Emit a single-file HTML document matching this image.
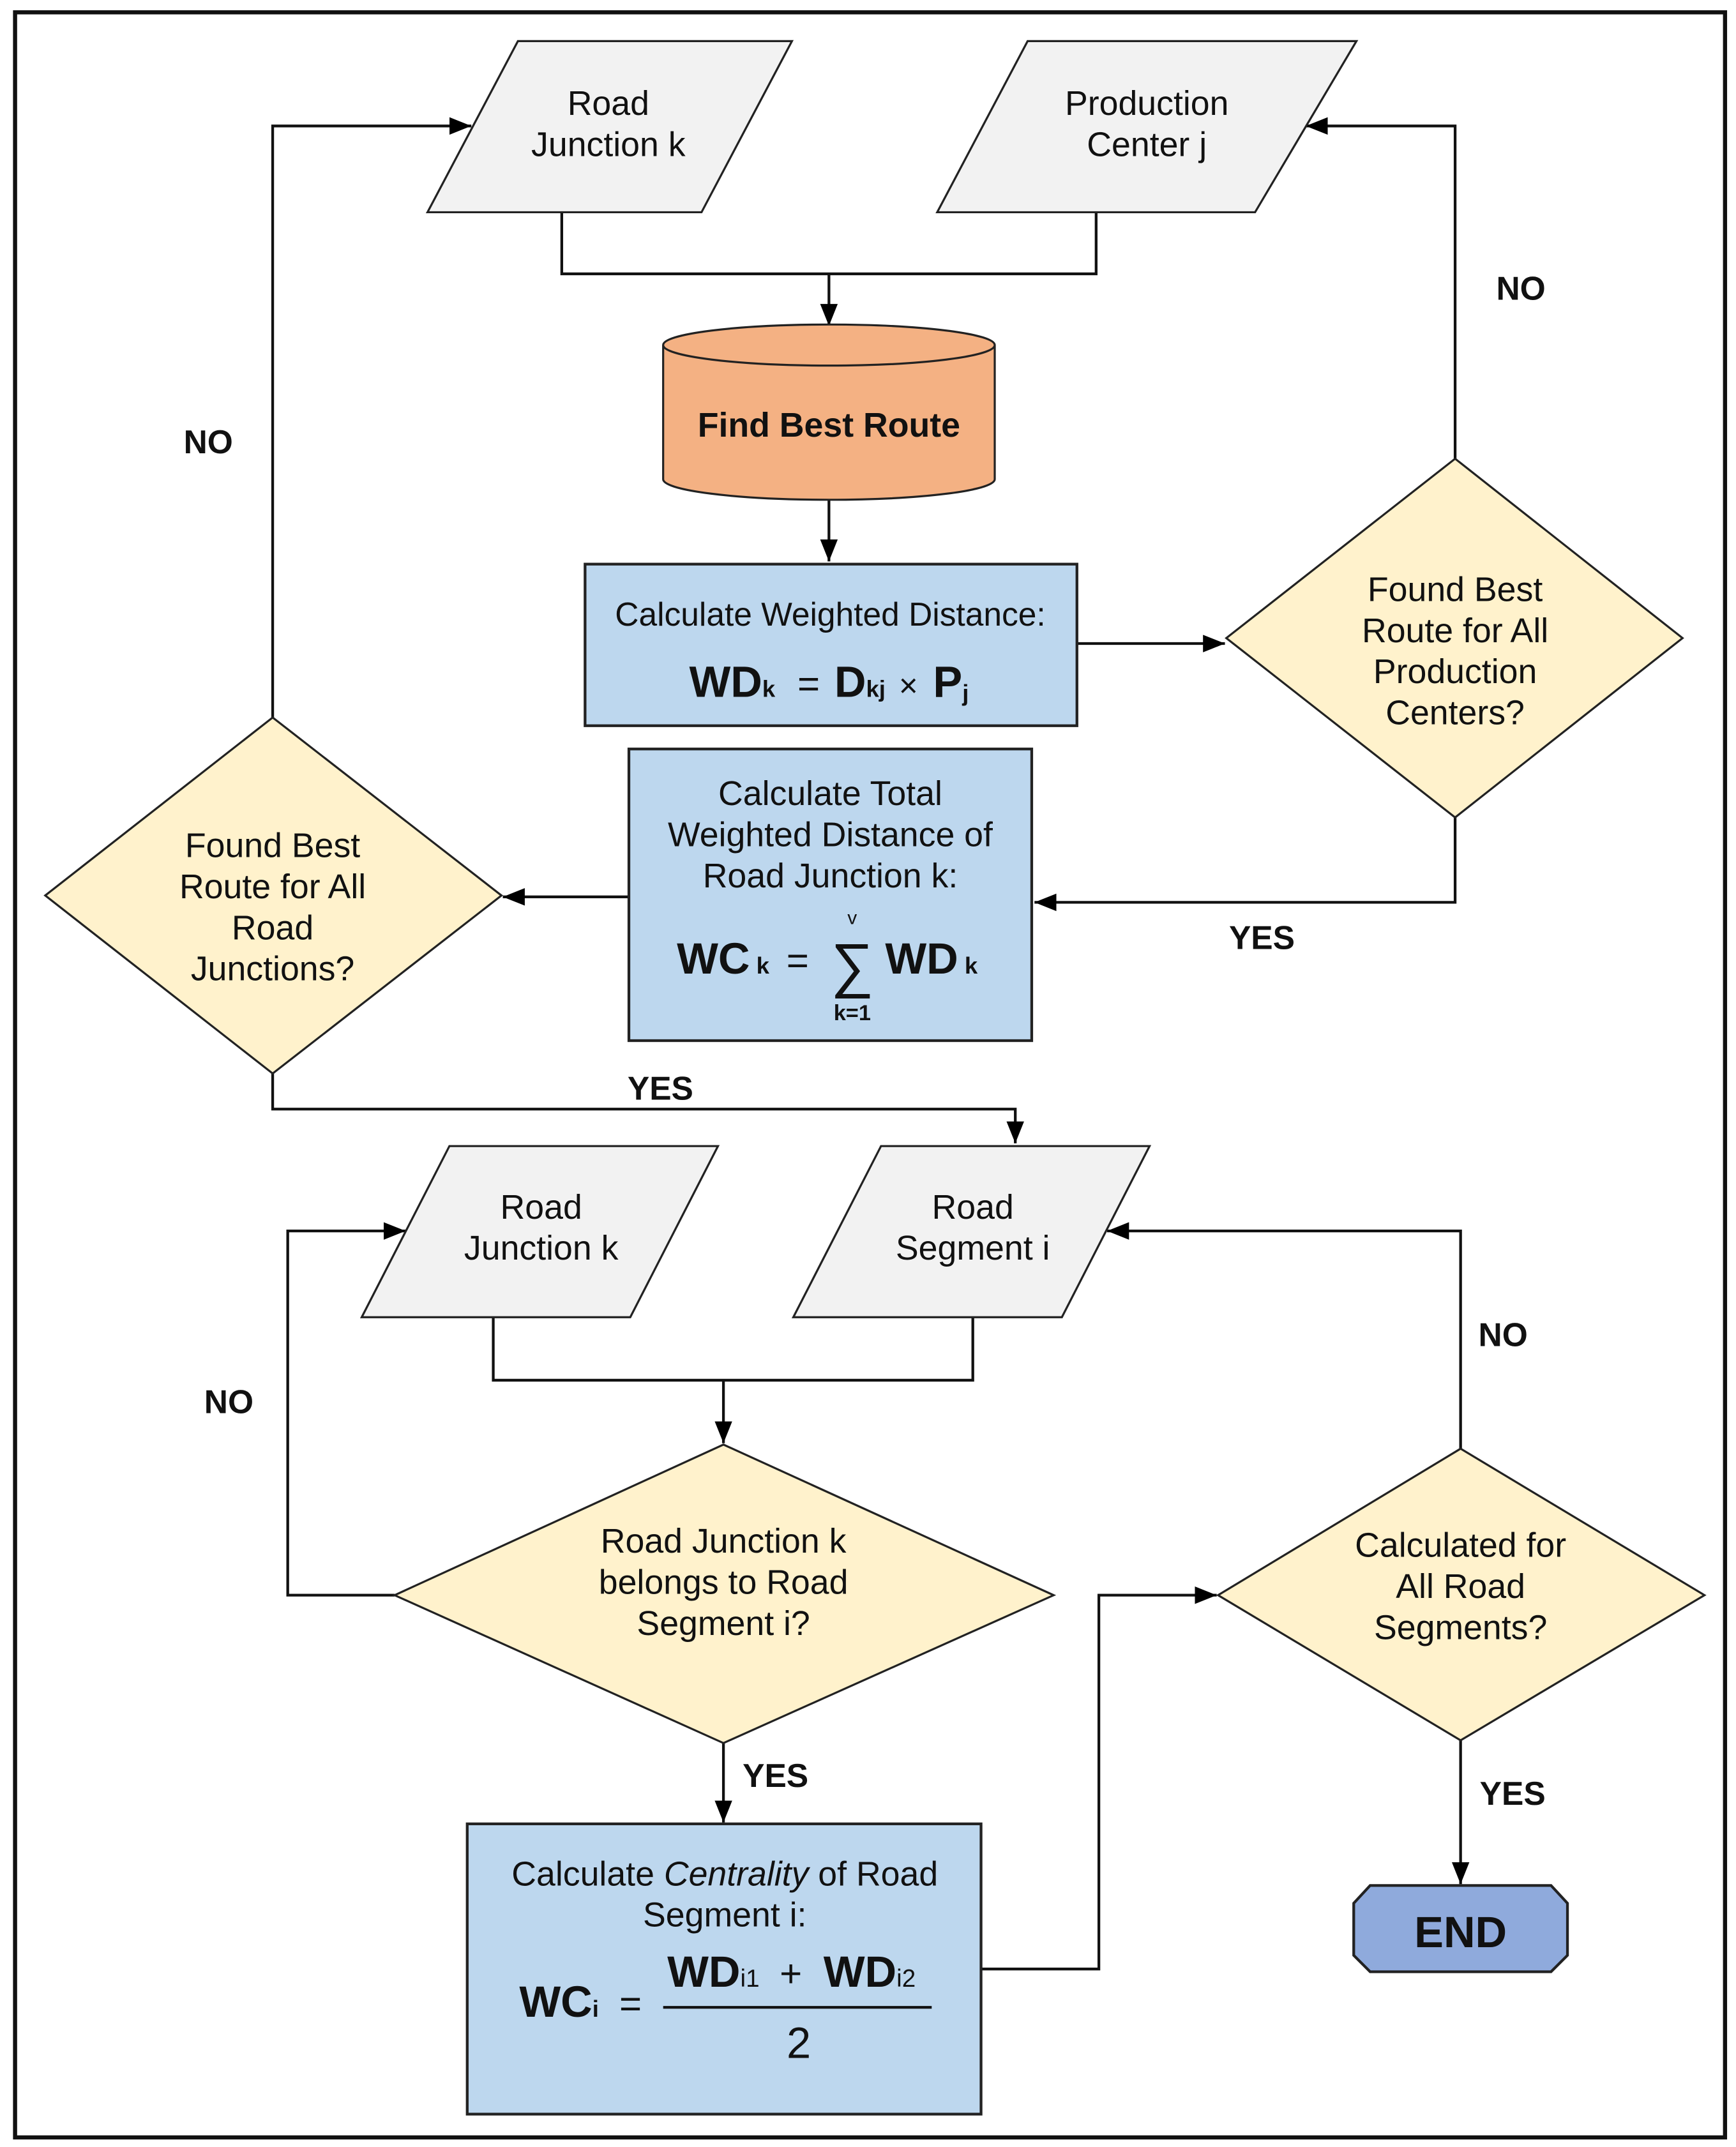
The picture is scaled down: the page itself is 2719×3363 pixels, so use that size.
<!DOCTYPE html>
<html><head><meta charset="utf-8"><style>
html,body{margin:0;padding:0;background:#fff;}
svg{display:block;}
text{font-family:"Liberation Sans",Arial,sans-serif;fill:#111;}
</style></head><body>
<svg width="2719" height="3363" viewBox="0 0 1267 1568" preserveAspectRatio="none" xmlns="http://www.w3.org/2000/svg">
<defs>
<marker id="a" viewBox="0 0 10 10" refX="10" refY="5" markerWidth="7" markerHeight="7" markerUnits="userSpaceOnUse" orient="auto">
<path d="M0,0 L10,5 L0,10 z" fill="#000"/></marker>
<marker id="b" viewBox="0 0 10 10" refX="10" refY="5" markerWidth="16" markerHeight="16" markerUnits="userSpaceOnUse" orient="auto">
<path d="M0,1 L10,5 L0,9 z" fill="#000"/></marker>
</defs>
<rect x="0" y="0" width="1267" height="1568" fill="#fff"/>
<rect x="11" y="9" width="1248" height="1552" fill="none" stroke="#111" stroke-width="3"/>

<g fill="none" stroke="#111" stroke-width="2">
<polyline points="410,155 410,200 800,200 800,155"/>
<line x1="605" y1="200" x2="605" y2="238" marker-end="url(#b)"/>
<line x1="605" y1="365" x2="605" y2="410" marker-end="url(#b)"/>
<line x1="786" y1="470" x2="894" y2="470" marker-end="url(#b)"/>
<polyline points="1062,335 1062,92 953,92" marker-end="url(#b)"/>
<polyline points="1062,597 1062,659 755,659" marker-end="url(#b)"/>
<line x1="459" y1="655" x2="367" y2="655" marker-end="url(#b)"/>
<polyline points="199,524 199,92 344,92" marker-end="url(#b)"/>
<polyline points="199,784 199,810 741,810 741,835" marker-end="url(#b)"/>
<polyline points="360,962 360,1008 710,1008 710,962"/>
<line x1="528" y1="1008" x2="528" y2="1054" marker-end="url(#b)"/>
<polyline points="288,1165 210,1165 210,899 296,899" marker-end="url(#b)"/>
<line x1="528" y1="1273" x2="528" y2="1331" marker-end="url(#b)"/>
<polyline points="716,1438 802,1438 802,1165 888,1165" marker-end="url(#b)"/>
<polyline points="1066,1058 1066,899 808,899" marker-end="url(#b)"/>
<line x1="1066" y1="1271" x2="1066" y2="1376" marker-end="url(#b)"/>
</g>

<g stroke="#222" stroke-width="1.5">
<polygon points="312,155 378,30 578,30 512,155" fill="#f2f2f2"/>
<polygon points="684,155 750,30 990,30 916,155" fill="#f2f2f2"/>
<path d="M484,252 L484,350 A121,15 0 0 0 726,350 L726,252 A121,15 0 0 0 484,252 A121,15 0 0 0 726,252" fill="#f4b183"/>
<rect x="427" y="412" width="359" height="118" fill="#bdd7ee" stroke-width="2"/>
<polygon points="895,466 1062,335 1228,466 1062,597" fill="#fff2cc"/>
<rect x="459" y="547" width="294" height="213" fill="#bdd7ee" stroke-width="2"/>
<polygon points="33,654 199,524 366,654 199,784" fill="#fff2cc"/>
<polygon points="264,962 328,837 524,837 460,962" fill="#f2f2f2"/>
<polygon points="579,962 643,837 839,837 775,962" fill="#f2f2f2"/>
<polygon points="288,1165 528,1055 769,1165 528,1273" fill="#fff2cc"/>
<rect x="341" y="1332" width="375" height="212" fill="#bdd7ee" stroke-width="2"/>
<polygon points="889,1165 1066,1058 1244,1165 1066,1271" fill="#fff2cc"/>
<polygon points="1000,1377 1132,1377 1144,1390 1144,1428 1132,1440 1000,1440 988,1428 988,1390" fill="#8faadc" stroke-width="2"/>
</g>

<g font-size="25" text-anchor="middle">
<text x="444" y="84">Road</text><text x="444" y="114">Junction k</text>
<text x="837" y="84">Production</text><text x="837" y="114">Center j</text>
<text x="605" y="319" font-weight="bold" font-size="25">Find Best Route</text>
<text x="606" y="457" font-size="24">Calculate Weighted Distance:</text>
<text x="1062" y="439">Found Best</text><text x="1062" y="469">Route for All</text><text x="1062" y="499">Production</text><text x="1062" y="529">Centers?</text>
<text x="606" y="588">Calculate Total</text><text x="606" y="618">Weighted Distance of</text><text x="606" y="648">Road Junction k:</text>
<text x="199" y="626">Found Best</text><text x="199" y="656">Route for All</text><text x="199" y="686">Road</text><text x="199" y="716">Junctions?</text>
<text x="395" y="890">Road</text><text x="395" y="920">Junction k</text>
<text x="710" y="890">Road</text><text x="710" y="920">Segment i</text>
<text x="528" y="1134">Road Junction k</text><text x="528" y="1164">belongs to Road</text><text x="528" y="1194">Segment i?</text>
<text x="1066" y="1137">Calculated for</text><text x="1066" y="1167">All Road</text><text x="1066" y="1197">Segments?</text>
<text x="529" y="1377">Calculate <tspan font-style="italic">Centrality</tspan> of Road</text>
<text x="529" y="1407">Segment i:</text>
<text x="1066" y="1422" font-weight="bold" font-size="32">END</text>
</g>

<g font-size="24" font-weight="bold">
<text x="1110" y="219" text-anchor="middle">NO</text>
<text x="152" y="331" text-anchor="middle">NO</text>
<text x="921" y="693" text-anchor="middle">YES</text>
<text x="482" y="803" text-anchor="middle">YES</text>
<text x="167" y="1032" text-anchor="middle">NO</text>
<text x="1097" y="983" text-anchor="middle">NO</text>
<text x="566" y="1305" text-anchor="middle">YES</text>
<text x="1104" y="1318" text-anchor="middle">YES</text>
</g>

<!-- formulas -->
<g>
<text x="503" y="509" font-size="32" font-weight="bold">WD<tspan font-size="17" dy="0">k</tspan></text>
<text x="582" y="509" font-size="28">=</text>
<text x="609" y="509" font-size="32" font-weight="bold">D<tspan font-size="17">kj</tspan></text>
<text x="656" y="509" font-size="24" fill="#333">×</text>
<text x="681" y="509" font-size="32" font-weight="bold">P<tspan font-size="17" dy="3">j</tspan></text>

<text x="494" y="711" font-size="32" font-weight="bold">WC<tspan font-size="17"> k</tspan></text>
<text x="574" y="711" font-size="28">=</text>
<text x="622" y="675" font-size="14" text-anchor="middle">v</text>
<text x="622" y="720" font-size="44" text-anchor="middle">∑</text>
<text x="622" y="745" font-size="16" font-weight="bold" text-anchor="middle">k=1</text>
<text x="646" y="711" font-size="32" font-weight="bold">WD<tspan font-size="17"> k</tspan></text>

<text x="379" y="1473" font-size="32" font-weight="bold">WC<tspan font-size="17">i</tspan></text>
<text x="452" y="1473" font-size="28">=</text>
<text x="487" y="1451" font-size="32" font-weight="bold">WD<tspan font-size="18" font-weight="normal">i1</tspan></text>
<text x="569" y="1451" font-size="28">+</text>
<text x="601" y="1451" font-size="32" font-weight="bold">WD<tspan font-size="18" font-weight="normal">i2</tspan></text>
<line x1="484" y1="1466" x2="680" y2="1466" stroke="#111" stroke-width="2"/>
<text x="583" y="1503" font-size="32" text-anchor="middle">2</text>
</g>
</svg>
</body></html>
